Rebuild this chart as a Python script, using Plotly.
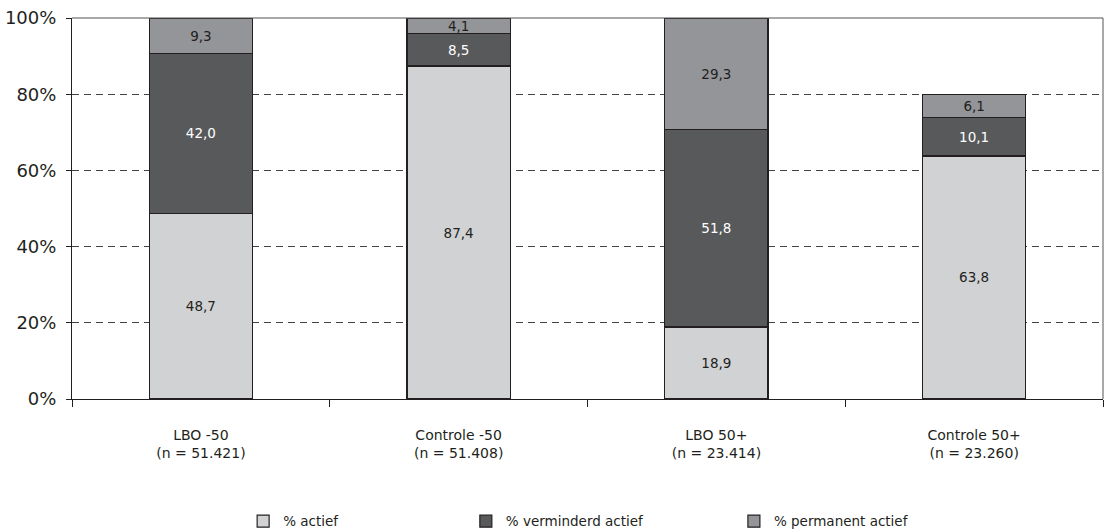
import plotly.graph_objects as go

# Categories shown on the x axis
categories = [
    "LBO -50<br>(n = 51.421)",
    "Controle -50<br>(n = 51.408)",
    "LBO 50+<br>(n = 23.414)",
    "Controle 50+<br>(n = 23.260)",
]

# Percentages per group
actief = [48.7, 87.4, 18.9, 63.8]
verminderd_actief = [42.0, 8.5, 51.8, 10.1]
permanent_actief = [9.3, 4.1, 29.3, 6.1]

# Y axis ticks
y_ticks = [0, 20, 40, 60, 80, 100]
y_tick_labels = ["0%", "20%", "40%", "60%", "80%", "100%"]

FONT = "DejaVu Sans"

# name, values, fill, label colour, legend id, legend x position
series = [
    ("% actief", actief, "#d1d2d4", "#231f20", "legend", 0.166),
    ("% verminderd actief", verminderd_actief, "#58595b", "#ffffff", "legend2", 0.382),
    ("% permanent actief", permanent_actief, "#939598", "#231f20", "legend3", 0.642),
]

fig = go.Figure()
legend_layouts = {}
for name, vals, fill, txt, leg, lx in series:
    fig.add_trace(go.Bar(
        name=name,
        x=categories,
        y=vals,
        legend=leg,
        marker=dict(color=fill, line=dict(color="#231f20", width=1.2)),
        texttemplate="%{y:.1f}",
        textposition="inside",
        insidetextanchor="middle",
        textangle=0,
        constraintext="none",
        textfont=dict(family=FONT, size=13.5, color=txt),
        width=0.4,
    ))
    legend_layouts[leg] = dict(
        orientation="h",
        x=lx, xanchor="left",
        yref="container", y=0.02, yanchor="middle",
        font=dict(family=FONT, size=13.5, color="#231f20"),
        bgcolor="rgba(0,0,0,0)",
    )

fig.update_layout(
    barmode="stack",
    separators=",.",
    width=1110,
    height=532,
    margin=dict(l=72, r=7, t=18, b=133),
    paper_bgcolor="white",
    plot_bgcolor="white",
    font=dict(family=FONT, color="#231f20"),
    showlegend=True,
    xaxis=dict(
        type="category",
        automargin=False,
        showline=True, linecolor="#231f20", linewidth=1,
        ticks="outside", tickson="boundaries", ticklen=7,
        tickcolor="#231f20", tickwidth=1,
        ticklabelstandoff=23,
        tickfont=dict(family=FONT, size=14, color="#231f20"),
        showgrid=False,
    ),
    yaxis=dict(
        range=[0, 100],
        automargin=False,
        tickmode="array",
        tickvals=y_ticks,
        ticktext=y_tick_labels,
        showline=True, linecolor="#231f20", linewidth=1,
        ticks="outside", ticklen=5, tickcolor="#231f20", tickwidth=1,
        ticklabelstandoff=6,
        tickfont=dict(family=FONT, size=18, color="#231f20"),
        showgrid=True, gridcolor="#444444", gridwidth=1, griddash="7px,5px",
        zeroline=False,
    ),
    **legend_layouts,
)

# Thin frame on the top and right edges of the plot area
fig.add_shape(type="line", xref="paper", yref="paper", x0=0, x1=1, y0=1, y1=1,
              line=dict(color="#555555", width=1.2), layer="above")
fig.add_shape(type="line", xref="paper", yref="paper", x0=1, x1=1, y0=0, y1=1,
              line=dict(color="#555555", width=1), layer="above")

fig.write_html("out.html")
